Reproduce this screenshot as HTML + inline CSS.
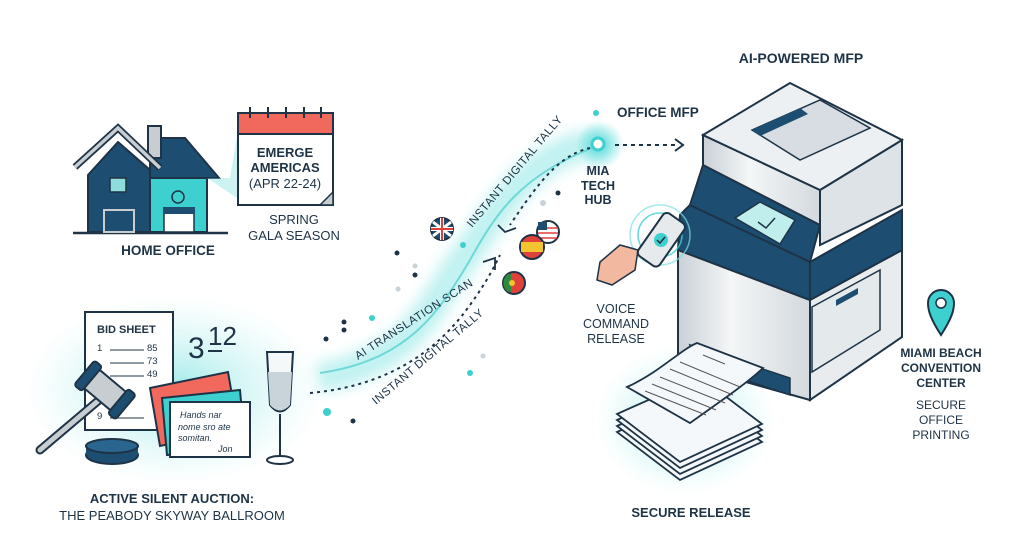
<!DOCTYPE html>
<html><head><meta charset="utf-8"><style>
html,body{margin:0;padding:0;background:#fff}
svg{display:block}
text{font-family:"Liberation Sans",sans-serif;fill:#1e3346}
.b{font-weight:bold}
</style></head><body>
<svg width="1024" height="559" viewBox="0 0 1024 559" xmlns="http://www.w3.org/2000/svg">
<defs>
<radialGradient id="g1"><stop offset="0" stop-color="#7fe3e3" stop-opacity=".75"/><stop offset="1" stop-color="#bff0f0" stop-opacity="0"/></radialGradient>
<radialGradient id="g2"><stop offset="0" stop-color="#46d6d6" stop-opacity=".9"/><stop offset="1" stop-color="#46d6d6" stop-opacity="0"/></radialGradient>
<filter id="bl"><feGaussianBlur stdDeviation="7"/></filter>
<linearGradient id="met" x1="0" x2="1"><stop offset="0" stop-color="#c9d0d6"/><stop offset=".4" stop-color="#f4f6f7"/><stop offset="1" stop-color="#d3d9de"/></linearGradient>
</defs>
<rect width="1024" height="559" fill="#fff"/>

<!-- glows -->
<ellipse cx="175" cy="390" rx="150" ry="95" fill="url(#g1)"/>
<ellipse cx="685" cy="420" rx="90" ry="75" fill="url(#g1)"/>
<path d="M318,378 C420,360 430,300 470,250 C510,190 540,150 600,143" stroke="#8ee6e5" stroke-width="30" fill="none" opacity=".55" filter="url(#bl)"/>
<circle cx="600" cy="145" r="24" fill="url(#g2)"/>

<!-- House -->
<line x1="73" y1="233" x2="228" y2="233" stroke="#1e3346" stroke-width="2.5"/>
<polygon points="88,232 88,175 118,142 150,170 150,232" fill="#1d4e72" stroke="#1e3346" stroke-width="2"/>
<polygon points="150,138 185,138 219,178 150,178" fill="#1d4e72" stroke="#1e3346" stroke-width="2"/>
<rect x="148" y="126" width="13" height="32" fill="#c8cdd2" stroke="#1e3346" stroke-width="2"/>
<polyline points="75,167 118,128 160,168" fill="none" stroke="#1e3346" stroke-width="7"/>
<polyline points="75,167 118,128 160,168" fill="none" stroke="#c8cdd2" stroke-width="3.5"/>
<rect x="150" y="178" width="57" height="54" fill="#3ed0cf" stroke="#1e3346" stroke-width="2"/>
<rect x="110" y="178" width="16" height="14" fill="#8edcdc" stroke="#1e3346" stroke-width="1.5"/>
<rect x="104" y="210" width="30" height="22" fill="#1d4e72" stroke="#c8cdd2" stroke-width="2"/>
<rect x="164" y="210" width="30" height="22" fill="#fff" stroke="#1e3346" stroke-width="1.5"/>
<rect x="163" y="207" width="32" height="7" fill="#1d4e72"/>
<circle cx="178" cy="197" r="6" fill="none" stroke="#1e3346" stroke-width="1.5"/>
<polygon points="207,178 230,178 238,130 240,200" fill="#7fe0df" opacity=".4"/>
<!-- Calendar -->
<rect x="238" y="113" width="95" height="92" fill="#fff" stroke="#1e3346" stroke-width="2"/>
<rect x="239" y="114" width="93" height="20" fill="#f1685c"/>
<line x1="238" y1="134" x2="333" y2="134" stroke="#1e3346" stroke-width="2"/>
<g stroke="#1e3346" stroke-width="2"><line x1="250" y1="107" x2="250" y2="118"/><line x1="268" y1="107" x2="268" y2="118"/><line x1="286" y1="107" x2="286" y2="118"/><line x1="304" y1="107" x2="304" y2="118"/><line x1="321" y1="107" x2="321" y2="118"/></g>
<polygon points="320,205 333,192 333,205" fill="#c8cdd2" stroke="#1e3346" stroke-width="1.5"/>
<text x="285" y="157" font-size="13" class="b" text-anchor="middle">EMERGE</text>
<text x="285" y="172" font-size="13" class="b" text-anchor="middle">AMERICAS</text>
<text x="285" y="188" font-size="13" text-anchor="middle">(APR 22-24)</text>
<text x="294" y="224" font-size="13" text-anchor="middle">SPRING</text>
<text x="294" y="240" font-size="13" text-anchor="middle">GALA SEASON</text>
<text x="168" y="255" font-size="13.5" class="b" text-anchor="middle">HOME OFFICE</text>

<!-- Auction -->
<rect x="85" y="312" width="88" height="118" fill="#fff" stroke="#1e3346" stroke-width="2"/>
<text x="97" y="333" font-size="11" class="b">BID SHEET</text>
<g font-size="9.5"><text x="97" y="351">1</text><text x="147" y="351">85</text><text x="147" y="364">73</text><text x="147" y="377">49</text><text x="97" y="419">9</text></g>
<g stroke="#1e3346" stroke-width="1"><line x1="110" y1="350" x2="144" y2="350"/><line x1="110" y1="363" x2="144" y2="363"/><line x1="110" y1="376" x2="144" y2="376"/><line x1="110" y1="418" x2="144" y2="418"/></g>
<text x="188" y="358" font-size="30" fill="#1e3346">3</text><text x="208" y="345" font-size="26">12</text>
<line x1="208" y1="351" x2="222" y2="351" stroke="#1e3346" stroke-width="2"/>
<!-- gavel -->
<line x1="40" y1="450" x2="105" y2="395" stroke="#1e3346" stroke-width="9" stroke-linecap="round"/>
<line x1="40" y1="450" x2="105" y2="395" stroke="#c8cdd2" stroke-width="5" stroke-linecap="round"/>
<g transform="rotate(40 105 390)"><rect x="85" y="378" width="40" height="24" fill="#c8cdd2" stroke="#1e3346" stroke-width="2"/><rect x="78" y="374" width="10" height="32" rx="3" fill="#1d4e72" stroke="#1e3346" stroke-width="2"/><rect x="122" y="374" width="10" height="32" rx="3" fill="#1d4e72" stroke="#1e3346" stroke-width="2"/></g>
<ellipse cx="112" cy="455" rx="26" ry="9" fill="#1d4e72" stroke="#1e3346" stroke-width="2"/>
<rect x="86" y="446" width="52" height="9" fill="#1d4e72"/>
<ellipse cx="112" cy="446" rx="26" ry="7" fill="#2a6590" stroke="#1e3346" stroke-width="2"/>
<!-- cards -->
<polygon points="150,388 228,372 238,430 160,446" fill="#f1685c" stroke="#1e3346" stroke-width="2"/>
<polygon points="162,398 240,390 245,448 167,455" fill="#3ed0cf" stroke="#1e3346" stroke-width="2"/>
<rect x="170" y="402" width="80" height="55" fill="#fff" stroke="#1e3346" stroke-width="2"/>
<g font-family="Liberation Serif" font-style="italic" font-size="9"><text x="180" y="418">Hands nar</text><text x="178" y="430">nome sro ate</text><text x="178" y="441">somitan.</text><text x="218" y="452">Jon</text></g>
<!-- glass -->
<path d="M267,352 L293,352 L290,405 Q280,418 270,405 Z" fill="#f4f8f9" stroke="#1e3346" stroke-width="2"/>
<path d="M268,372 L292,372 L290,405 Q280,416 270,405 Z" fill="#c8d4da"/>
<line x1="280" y1="414" x2="280" y2="458" stroke="#1e3346" stroke-width="2"/>
<ellipse cx="280" cy="460" rx="13" ry="4" fill="#fff" stroke="#1e3346" stroke-width="2"/>
<text x="172" y="503" font-size="13" class="b" text-anchor="middle">ACTIVE SILENT AUCTION:</text>
<text x="172" y="520" font-size="13" text-anchor="middle">THE PEABODY SKYWAY BALLROOM</text>

<!-- connectors -->
<path d="M320,373 C410,360 440,310 470,260 C495,215 520,175 595,147" stroke="#6fd8d6" stroke-width="2" fill="none"/>
<path d="M310,393 C400,385 445,340 470,305 C488,280 495,265 500,255" stroke="#1e3346" stroke-width="2" stroke-dasharray="3,4" fill="none"/>
<polyline points="483,262 495,258 495,270" fill="none" stroke="#1e3346" stroke-width="1.8"/>
<path d="M590,148 C560,155 540,180 510,225" stroke="#1e3346" stroke-width="2" stroke-dasharray="3,4" fill="none"/>
<polyline points="498,225 505,232 516,228" fill="none" stroke="#1e3346" stroke-width="1.8"/>
<line x1="615" y1="145" x2="678" y2="145" stroke="#1e3346" stroke-width="2" stroke-dasharray="4,4"/>
<polyline points="675,139 683,145 675,151" fill="none" stroke="#1e3346" stroke-width="2"/>
<circle cx="598" cy="144" r="6" fill="#fff" stroke="#3ed0cf" stroke-width="3"/>
<circle cx="596" cy="113" r="3" fill="#3ed0cf"/>
<text transform="translate(358,360) rotate(-33)" font-size="11.5" letter-spacing=".5">AI TRANSLATION SCAN</text>
<text transform="translate(376,405) rotate(-40)" font-size="11.5" letter-spacing=".5">INSTANT DIGITAL TALLY</text>
<text transform="translate(472,228) rotate(-50)" font-size="11.5" letter-spacing=".5">INSTANT DIGITAL TALLY</text>
<!-- dots -->
<g fill="#1e3346"><circle cx="397" cy="253" r="2.5"/><circle cx="415" cy="275" r="2.5"/><circle cx="344" cy="322" r="2.5"/><circle cx="344" cy="330" r="2.5"/><circle cx="326" cy="339" r="2.5"/><circle cx="353" cy="421" r="2.5"/><circle cx="558" cy="193" r="2.5"/></g>
<g fill="#3ed0cf"><circle cx="463" cy="245" r="3"/><circle cx="372" cy="318" r="3"/><circle cx="470" cy="373" r="3"/><circle cx="327" cy="412" r="4"/></g>
<g fill="#c8d2d8"><circle cx="415" cy="266" r="2.5"/><circle cx="398" cy="289" r="2.5"/><circle cx="483" cy="356" r="2.5"/><circle cx="543" cy="203" r="3"/></g>
<!-- flags -->
<circle cx="442" cy="229" r="11" fill="#1d4e72" stroke="#1e3346" stroke-width="2"/>
<path d="M433,222 L451,236 M451,222 L433,236" stroke="#fff" stroke-width="3"/><path d="M442,218 V240 M431,229 H453" stroke="#fff" stroke-width="4"/><path d="M442,218 V240 M431,229 H453" stroke="#e0413a" stroke-width="2"/>
<circle cx="548" cy="232" r="11" fill="#fff" stroke="#1e3346" stroke-width="2"/>
<g stroke="#e0413a" stroke-width="1.6"><line x1="538" y1="228" x2="558" y2="228"/><line x1="538" y1="233" x2="558" y2="233"/><line x1="539" y1="238" x2="557" y2="238"/></g><rect x="538" y="222" width="9" height="8" fill="#1d4e72"/>
<circle cx="532" cy="247" r="12" fill="#e0413a" stroke="#1e3346" stroke-width="2"/><rect x="521" y="242" width="22" height="10" fill="#f4c430"/>
<circle cx="514" cy="283" r="11" fill="#e0413a" stroke="#1e3346" stroke-width="2"/><path d="M508,274 A11,11 0 0 0 508,292 L511,292 L511,274Z" fill="#2b8a3e"/><circle cx="512" cy="283" r="3" fill="#f4c430"/>

<text x="598" y="175" font-size="12.5" class="b" text-anchor="middle">MIA</text>
<text x="598" y="190" font-size="12.5" class="b" text-anchor="middle">TECH</text>
<text x="598" y="204" font-size="12.5" class="b" text-anchor="middle">HUB</text>
<text x="617" y="117" font-size="13.5" class="b">OFFICE MFP</text>
<text x="801" y="63" font-size="14" class="b" text-anchor="middle">AI-POWERED MFP</text>

<!-- printer -->
<polygon points="678,250 810,300 810,400 678,363" fill="url(#met)" stroke="#1e3346" stroke-width="2"/>
<polygon points="810,300 902,250 902,337 810,400" fill="#e8ecef" stroke="#1e3346" stroke-width="2"/>
<polygon points="690,205 810,262 810,300 678,250 680,215" fill="#1d4e72" stroke="#1e3346" stroke-width="2"/>
<polygon points="810,262 902,210 902,250 810,300" fill="#1d4e72" stroke="#1e3346" stroke-width="2"/>
<polygon points="703,165 820,225 810,262 690,205" fill="#1d4e72" stroke="#1e3346" stroke-width="2"/>
<polygon points="703,135 820,190 820,225 703,165" fill="url(#met)" stroke="#1e3346" stroke-width="2"/>
<polygon points="820,190 902,140 902,205 820,245" fill="#dde3e7" stroke="#1e3346" stroke-width="2"/>
<polygon points="703,135 790,83 902,140 820,190" fill="#edf0f2" stroke="#1e3346" stroke-width="2"/>
<polygon points="752,130 820,100 870,128 800,160" fill="#d7dde2" stroke="#1e3346" stroke-width="1.5"/>
<polygon points="752,130 800,108 808,114 760,136" fill="#1d4e72"/>
<polygon points="735,218 760,202 795,220 780,244" fill="#bfeeed" stroke="#1e3346" stroke-width="1.5"/>
<polyline points="758,222 766,228 775,218" fill="none" stroke="#1e3346" stroke-width="1.5"/>
<polygon points="812,307 880,270 880,330 812,372" fill="#e4e9ec" stroke="#1e3346" stroke-width="1.5"/>
<polygon points="836,300 858,288 858,294 836,306" fill="#1d4e72"/>
<polygon points="690,345 790,378 790,395 700,365" fill="#1d4e72" stroke="#1e3346" stroke-width="1.5"/>
<!-- phone + hand -->
<circle cx="660" cy="235" r="30" fill="none" stroke="#7fe0df" stroke-width="1.5" opacity=".7"/>
<circle cx="660" cy="235" r="22" fill="none" stroke="#3ed0cf" stroke-width="1.5" opacity=".8"/>
<path d="M600,262 L620,245 L638,250 L635,270 L612,285 L597,280Z" fill="#f2b9a0" stroke="#1e3346" stroke-width="1.5"/>
<g transform="rotate(35 660 240)"><rect x="648" y="213" width="26" height="52" rx="5" fill="#e6eaed" stroke="#1e3346" stroke-width="2"/></g>
<circle cx="661" cy="240" r="7" fill="#3ed0cf"/><polyline points="657,240 660,243 665,237" fill="none" stroke="#1e3346" stroke-width="1.5"/>
<text x="616" y="313" font-size="12.5" text-anchor="middle">VOICE</text>
<text x="616" y="328" font-size="12.5" text-anchor="middle">COMMAND</text>
<text x="616" y="343" font-size="12.5" text-anchor="middle">RELEASE</text>
<!-- papers -->
<g fill="#f5f8fa" stroke="#1e3346" stroke-width="1.8">
<polygon points="617,432 700,395 762,442 680,480"/>
<polygon points="617,426 700,389 762,436 680,474"/>
<polygon points="617,420 700,383 762,430 680,468"/>
<polygon points="617,414 700,377 762,424 680,462"/>
<path d="M627,387 C660,372 680,350 697,343 L763,368 C745,385 715,405 690,423 Z"/>
</g>
<g stroke="#555" stroke-width="1"><line x1="703" y1="355" x2="725" y2="364"/><line x1="680" y1="362" x2="740" y2="387"/><line x1="670" y1="369" x2="733" y2="395"/><line x1="660" y1="377" x2="725" y2="403"/><line x1="652" y1="384" x2="716" y2="410"/><line x1="645" y1="391" x2="706" y2="415"/></g>
<text x="691" y="517" font-size="13" class="b" text-anchor="middle">SECURE RELEASE</text>
<!-- pin -->
<path d="M941,335 C930,318 928,310 928,303 A13,13 0 0 1 954,303 C954,310 952,318 941,335Z" fill="#3ed0cf" stroke="#1e3346" stroke-width="2"/>
<circle cx="941" cy="303" r="5" fill="#fff" stroke="#1e3346" stroke-width="1.5"/>
<text x="941" y="357" font-size="12" class="b" text-anchor="middle">MIAMI BEACH</text>
<text x="941" y="372" font-size="12" class="b" text-anchor="middle">CONVENTION</text>
<text x="941" y="387" font-size="12" class="b" text-anchor="middle">CENTER</text>
<text x="941" y="409" font-size="12" text-anchor="middle">SECURE</text>
<text x="941" y="424" font-size="12" text-anchor="middle">OFFICE</text>
<text x="941" y="439" font-size="12" text-anchor="middle">PRINTING</text>
</svg>
</body></html>
